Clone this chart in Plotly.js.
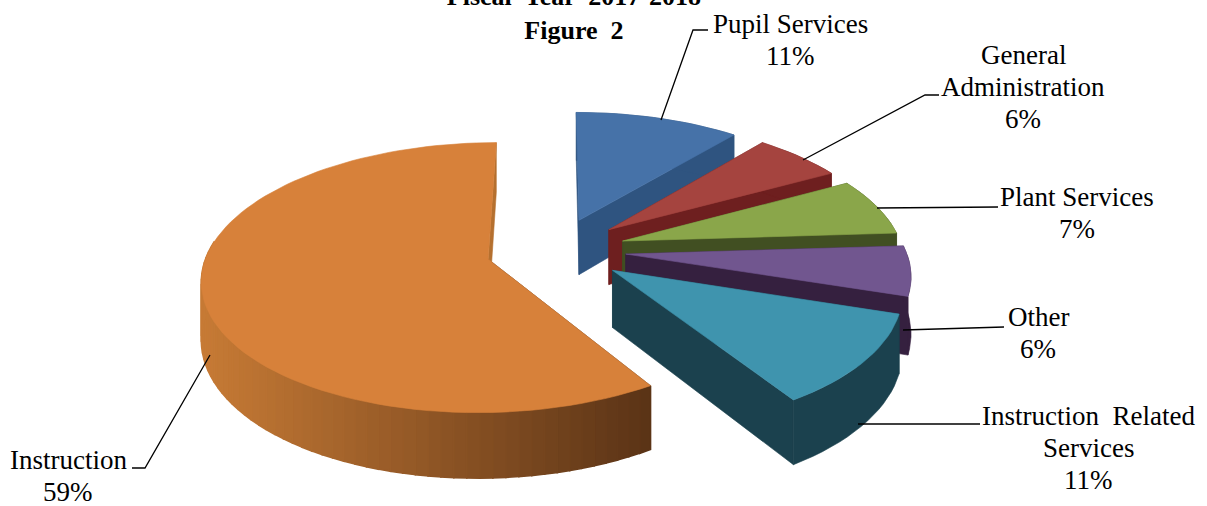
<!DOCTYPE html>
<html><head><meta charset="utf-8">
<script src="https://cdn.plot.ly/plotly-3.0.1.min.js"></script>
<style>html,body{margin:0;padding:0;background:#fff}#c{width:1207px;height:506px}</style>
</head><body><div id="c"></div>
<script>
// Data
const categories = ["Pupil Services","General Administration","Plant Services","Other","Instruction Related Services","Instruction"];
const percents = [11,6,7,6,11,59];
const labelLines = [["Pupil Services","11%"],["General","Administration","6%"],["Plant Services","7%"],["Other","6%"],["Instruction  Related","Services","11%"],["Instruction","59%"]];
const topColors = ["#4672a8","#a5443f","#8aa64a","#71568f","#3f94ae","#d7813a"];
const faceColors = ["#2f5480","#6e1f1f","#414f22","#35203f","#1b414e","#5c3415"];
const titleText = "<b>Fiscal  Year  2017-2018<br>Figure  2</b>";

// Label placement (pixel space of the chart)
const labelCenters = [[790,24],[1023,55],[1077,197],[1038,317],[1088,416],[68,460]];
const leaderX = [[708,693,661],[939,925,803],[998,877],[1004,903],[980,858],[132,145,210]];
const leaderY = [[30,30,120],[95,95,160],[207,208],[327,330],[424,424],[468,468,355]];

// View of the tilted pie
const cx=556, cy=250, RX=280, RY=130, K=0.1355, EXPLODE=0.25, DEPTH=56, LINE_GAP=32;

function project(u,v,down){
  const w=1+K*v;
  return [cx+RX*u/w, cy-RY*v/w+(down?DEPTH/w:0)];
}
function polyTrace(pts,color,lw){
  return {type:"scatter",mode:"lines",x:pts.map(p=>p[0]),y:pts.map(p=>p[1]),fill:"toself",
    fillcolor:color,line:{color:color,width:lw||0.6},hoverinfo:"skip",showlegend:false};
}
function mix(a,b,t){
  const p=c=>[1,3,5].map(i=>parseInt(c.substr(i,2),16));
  const A=p(a),B=p(b);
  return "rgb("+A.map((x,i)=>Math.round(x+(B[i]-x)*t)).join(",")+")";
}
const traces=[];
const total=percents.reduce((a,b)=>a+b,0);
const slices=[]; let cum=0;
percents.forEach((p,i)=>{
  const a0=cum/total*2*Math.PI; cum+=p; const a1=cum/total*2*Math.PI;
  slices.push({i,a0,a1});
});
// Instruction first, then around the pie from the back to the front
const order=[5,0,1,2,3,4];
order.forEach(i=>{
  const {a0,a1}=slices[i], mid=(a0+a1)/2;
  const ox=EXPLODE*Math.sin(mid), oy=EXPLODE*Math.cos(mid);
  const pt=(a,r)=>[ox+r*Math.sin(a),oy+r*Math.cos(a)];
  const P=(a,r,d)=>{const q=pt(a,r);return project(q[0],q[1],d);};
  // radial faces
  [a0,a1].forEach(a=>traces.push(polyTrace([P(a,0,false),P(a,1,false),P(a,1,true),P(a,0,true),P(a,0,false)],
      i===5&&a===a1?"#b5702f":faceColors[i])));
  const n=Math.max(4,Math.round((a1-a0)/0.04));
  const angle=s=>a0+(a1-a0)*s/n;
  if(i===5){
    // outer rim of the large slice: strips, so the light can fall off across it
    const xL=project(ox-1,oy,false)[0], xR=P(a0,1,false)[0];
    for(let s=0;s<n;s++){
      const b0=angle(s), b1=angle(s+1);
      if(Math.cos((b0+b1)/2)>0.15) continue;
      const xm=(P(b0,1,false)[0]+P(b1,1,false)[0])/2;
      const t=Math.min(1,Math.max(0,(xm-xL)/(xR-xL)));
      traces.push(polyTrace([P(b0,1,false),P(b1,1,false),P(b1,1,true),P(b0,1,true),P(b0,1,false)],mix("#c67a35","#5a3316",t),1.6));
    }
  } else {
    const rim=[];
    for(let s=0;s<=n;s++) rim.push(P(angle(s),1,false));
    for(let s=n;s>=0;s--) rim.push(P(angle(s),1,true));
    rim.push(rim[0]);
    traces.push(polyTrace(rim,faceColors[i]));
  }
  // top surface
  const top=[P(a0,0,false)];
  for(let s=0;s<=n;s++) top.push(P(angle(s),1,false));
  top.push(P(a0,0,false));
  traces.push(polyTrace(top,topColors[i]));
});
// leader lines
leaderX.forEach((xs,i)=>traces.push({type:"scatter",mode:"lines",x:xs,y:leaderY[i],
  line:{color:"#000",width:1.3},hoverinfo:"skip",showlegend:false}));

const annotations=[];
labelLines.forEach((lines,i)=>lines.forEach((t,j)=>annotations.push({
  x:labelCenters[i][0],y:labelCenters[i][1]+j*LINE_GAP,xref:"x",yref:"y",text:t,showarrow:false,
  xanchor:"center",yanchor:"middle",font:{family:"Liberation Serif",size:27,color:"#000"}})));

Plotly.newPlot("c",traces,{
  width:1207,height:506,margin:{l:0,r:0,t:0,b:0},paper_bgcolor:"#fff",plot_bgcolor:"#fff",
  title:{text:titleText,font:{family:"Liberation Serif",size:26,color:"#000"},x:0.4755,xanchor:"center",
    yref:"container",y:1,yanchor:"top",pad:{t:5}},
  xaxis:{range:[0,1207],visible:false,fixedrange:true},
  yaxis:{range:[506,0],visible:false,fixedrange:true},
  annotations,showlegend:false
},{displayModeBar:false,staticPlot:true});
</script></body></html>
